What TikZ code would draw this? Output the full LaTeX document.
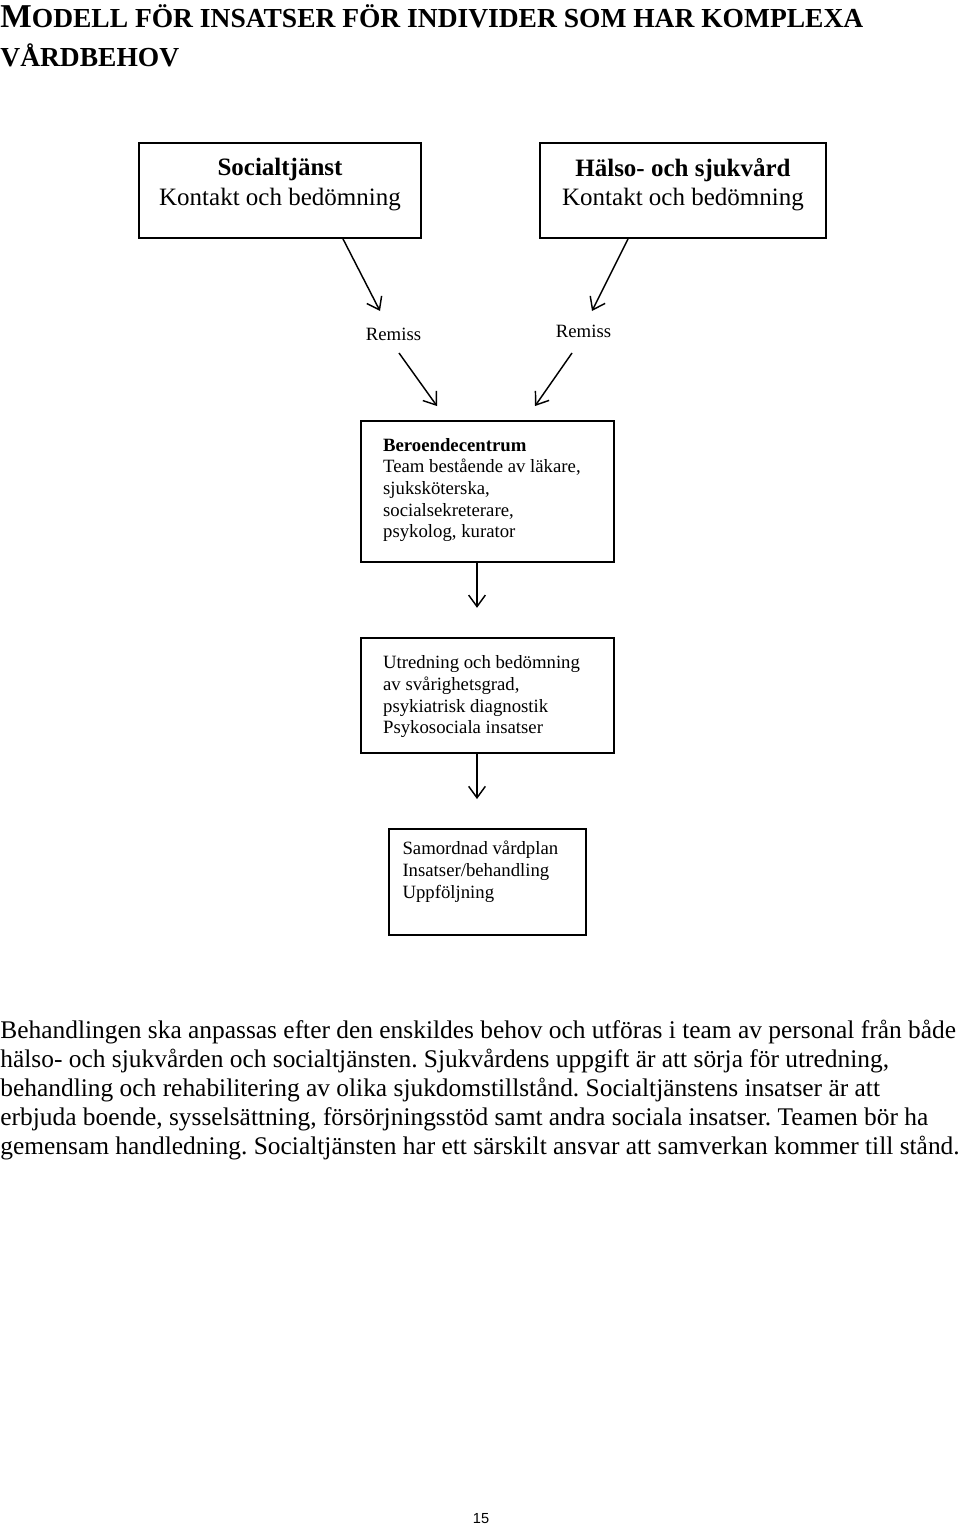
\documentclass[tikz,border=0pt]{standalone}
\usepackage{fontspec}
\setmainfont{Liberation Serif}
\newfontfamily\pagefont{Liberation Sans}
\usetikzlibrary{arrows.meta,calc}
\frenchspacing

\tikzset{
  box/.style={draw, line width=0.9pt, inner ysep=0pt},
  link/.style={line width=0.7pt, -{Straight Barb[length=5.5pt,width=8pt]}},
  small/.style={font=\fontsize{9}{10.4}\selectfont}
}

\begin{document}
\begin{tikzpicture}[x=0.48pt, y=-0.48pt]

  \useasboundingbox (0,0) rectangle (960,1529);

  % heading
  \node[anchor=base west, inner sep=0pt] (h0) at (0,28)
    {\bfseries{\fontsize{16}{18}\selectfont M}{\fontsize{13.2}{15}\selectfont ODELL FÖR INSATSER FÖR INDIVIDER SOM HAR KOMPLEXA}};
  \node[anchor=base west, inner sep=0pt] (h1) at (0,67)
    {\bfseries\fontsize{13.2}{15}\selectfont VÅRDBEHOV};

  \node[box, inner xsep=0pt] (b0) at (280,190.5)
    {\parbox[c][45.6pt][t]{135.4pt}{\centering\fontsize{12}{14}\selectfont\vspace*{7.5pt}\textbf{Socialtjänst}\\Kontakt och bedömning}};
  \node[box, inner xsep=0pt] (b1) at (683,190.5)
    {\parbox[c][45.6pt][t]{137.3pt}{\centering\fontsize{12}{14}\selectfont\vspace*{7.5pt}\textbf{Hälso- och sjukvård}\\Kontakt och bedömning}};

  \node[small, anchor=base] (r0) at (393.5,340) {Remiss};
  \node[small, anchor=base] (r1) at (583.5,337) {Remiss};

  \node[box, inner xsep=10.6pt] (b2) at (487.5,491.5)
    {\parbox[c][67.7pt][t]{100.2pt}{\raggedright\fontsize{9}{10.4}\selectfont\vspace*{8.3pt}\textbf{Beroendecentrum}\\Team bestående av läkare,\\sjuksköterska,\\socialsekreterare,\\psykolog, kurator}};
  \node[box, inner xsep=10.6pt] (b3) at (487.5,695.75)
    {\parbox[c][55.2pt][t]{100.2pt}{\raggedright\fontsize{9}{10.4}\selectfont\vspace*{8.5pt}Utredning och bedömning\\av svårighetsgrad,\\psykiatrisk diagnostik\\Psykosociala insatser}};
  \node[box, inner xsep=6.5pt] (b4) at (487.5,882)
    {\parbox[c][50.9pt][t]{81.6pt}{\raggedright\fontsize{9}{10.4}\selectfont\vspace*{5.9pt}Samordnad vårdplan\\Insatser/behandling\\Uppföljning}};

  \draw[link] ($(b0.south)+(63,0)$) -- ($(r0.base)+(-13.5,-29)$);
  \draw[link] ($(b1.south)+(-55,0)$) -- ($(r1.base)+(8.5,-26)$);
  \draw[link] ($(r0.base)+(5.5,13)$) -- ($(b2.north)+(-50.5,-14)$);
  \draw[link] ($(r1.base)+(-11.5,16)$) -- ($(b2.north)+(47.5,-14)$);
  \draw[link] ($(b2.south)+(-10.5,0)$) -- ($(b3.north)+(-10.5,-29.5)$);
  \draw[link] ($(b3.south)+(-10.5,0)$) -- ($(b4.north)+(-10.5,-29)$);

  \node[anchor=north west, inner sep=0pt, align=left, font=\fontsize{12.2}{13.9}\selectfont] (p0) at (0,1020)
    {Behandlingen ska anpassas efter den enskildes behov och utföras i team av personal från både\\
     hälso- och sjukvården och socialtjänsten. Sjukvårdens uppgift är att sörja för utredning,\\
     behandling och rehabilitering av olika sjukdomstillstånd. Socialtjänstens insatser är att\\
     erbjuda boende, sysselsättning, försörjningsstöd samt andra sociala insatser. Teamen bör ha\\
     gemensam handledning. Socialtjänsten har ett särskilt ansvar att samverkan kommer till stånd.};

  \node[anchor=base, inner sep=0pt, font=\pagefont\fontsize{7}{8}\selectfont] (pg) at (481,1523) {15};

\end{tikzpicture}
\end{document}
